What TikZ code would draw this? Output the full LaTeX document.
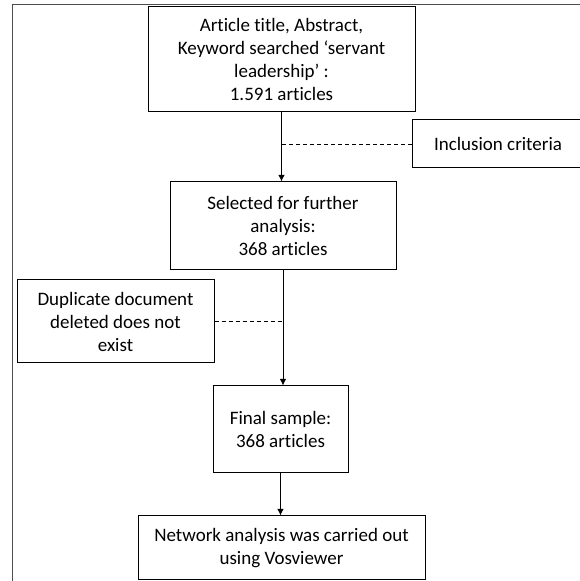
\documentclass[tikz,border=0pt]{standalone}
\usepackage{fontspec}
\setmainfont{Carlito}[Ligatures=NoCommon]
\usetikzlibrary{positioning,arrows.meta}
\begin{document}
\begin{tikzpicture}[x=1pt,y=1pt,>={Latex[length=6.5pt,width=6.5pt]},
        box/.style={draw,line width=1pt,inner sep=0pt,align=center,font=\fontsize{19}{23}\selectfont},
        flow/.style={->,line width=1pt},
        link/.style={line width=0.9pt,dash pattern=on 4pt off 3pt}]
        \useasboundingbox (0,0) rectangle (580,581);
        \clip (0,0) rectangle (580,581);
        \draw[line width=1.4pt,gray!60!black] (12.7,-5) -- (12.7,576.5) -- (590,576.5);
        \node[box,minimum width=267,minimum height=105] (search) at (281.5,521.5) {Article title, Abstract,\\Keyword searched ‘servant\\leadership’ :\\1.591 articles};
        \node[box,minimum width=172,minimum height=48] (incl) at (498,437) {Inclusion criteria};
        \node[box,minimum width=226,minimum height=88] (select) at (283,355) {Selected for further\\analysis:\\368 articles};
        \node[box,minimum width=197,minimum height=83] (dup) at (115.5,259.5) {Duplicate document\\deleted does not\\exist};
        \node[box,minimum width=135,minimum height=87] (final) at (280.5,151.5) {Final sample:\\368 articles};
        \node[box,minimum width=287,minimum height=64] (network) at (281.5,33) {Network analysis was carried out\\using Vosviewer};
        \draw[flow] (search.south) -- (search.south |- select.north);
        \draw[flow] (select.south) -- (select.south |- final.north);
        \draw[flow] (final.south) -- (final.south |- network.north);
        \draw[link] (incl.west) -- (incl.west -| search.south);
        \draw[link] (dup.east) -- (dup.east -| select.south);
    \end{tikzpicture}
\end{document}
